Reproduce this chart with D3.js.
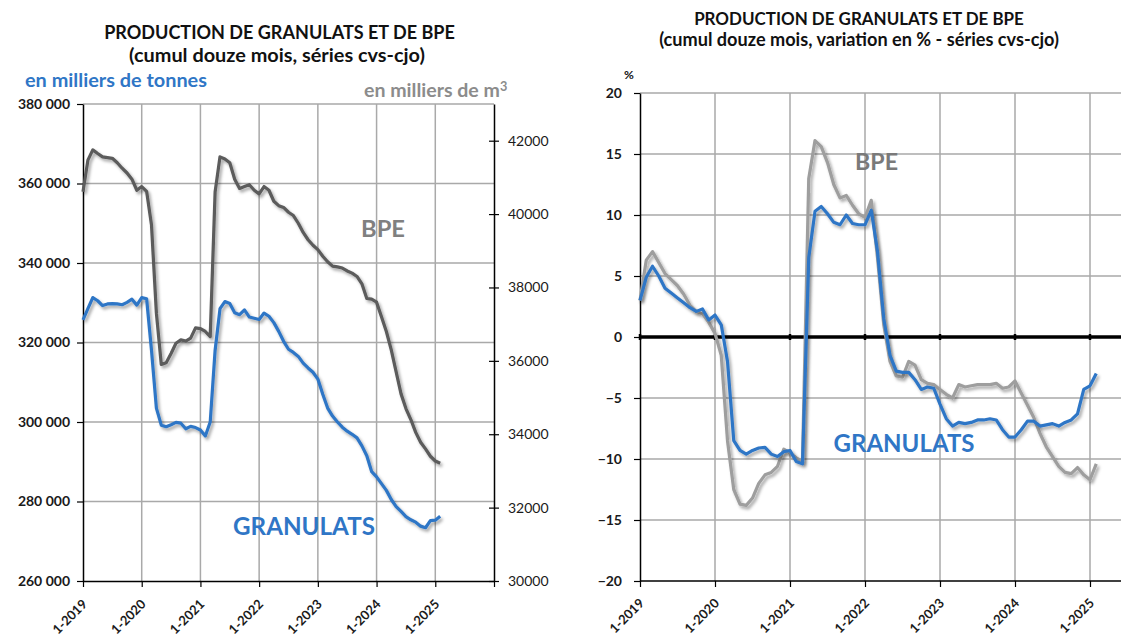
<!DOCTYPE html>
<html>
<head>
<meta charset="utf-8">
<script src="https://cdn.jsdelivr.net/npm/d3@7"></script>
<style>
body { margin: 0; background: #fff; }
text { font-family: Lato, "Open Sans", sans-serif; }
</style>
</head>
<body>
<svg id="chart" width="1125" height="637"></svg>
<script>
// monthly series, 1-2019 .. 2-2025 (cumul douze mois, cvs-cjo)
const yearLabels = ["1-2019", "1-2020", "1-2021", "1-2022", "1-2023", "1-2024", "1-2025"];

// milliers de tonnes
const granulats = [
    325700, 328500, 331300, 330500, 329300, 329700, 329800, 329700, 329500, 330100, 330900, 329400,
    331300, 331000, 318000, 303500, 299200, 298800, 299300, 299900, 299700, 298300, 298900, 298600,
    298000, 296500, 300000, 318000, 328500, 330300, 329800, 327500, 327000, 328200, 326400, 326100,
    325800, 327400, 326600, 325000, 322800, 320300, 318300, 317500, 316500, 314800, 313600, 312500,
    310800, 307000, 303500, 301500, 300000, 298700, 297700, 296900, 296000, 294000, 291500, 287500,
    286200, 284500, 282800, 280500, 278700, 277500, 276200, 275400, 274800, 273800, 273400, 275200,
    275300, 276300
];
// milliers de m3
const bpe = [
    40610, 41470, 41750, 41650, 41560, 41540, 41520, 41400, 41250, 41120, 40950, 40650,
    40750, 40620, 39700, 37300, 35900, 35950, 36200, 36480, 36570, 36540, 36620, 36900,
    36880, 36800, 36660, 40600, 41560, 41500, 41400, 40950, 40700, 40750, 40800, 40650,
    40550, 40750, 40650, 40350, 40230, 40180, 40050, 39960, 39750, 39500, 39300, 39150,
    39030, 38850, 38700, 38580, 38560, 38530, 38450, 38390, 38300, 38100, 37700, 37680,
    37600, 37200, 36800, 36300, 35700, 35100, 34700, 34400, 34050, 33780, 33600, 33400,
    33270, 33210
];
// variation en %
const granulatsPct = [
    3.0, 4.9, 5.8, 5.0, 4.0, 3.6, 3.2, 2.8, 2.4, 2.1, 2.3, 1.4,
    1.8, 1.0, -2.0, -8.5, -9.3, -9.6, -9.3, -9.1, -9.05, -9.6, -9.8, -9.4,
    -9.3, -10.2, -10.4, 6.5, 10.3, 10.7, 10.1, 9.4, 9.2, 10.0, 9.3, 9.2,
    9.2, 10.4, 7.0, 1.5, -1.5, -2.8, -2.9, -2.9, -3.5, -4.3, -4.1, -4.2,
    -5.5, -6.7, -7.3, -7.0, -7.1, -7.0, -6.8, -6.8, -6.7, -6.8, -7.6, -8.2,
    -8.2, -7.6, -6.9, -6.9, -7.3, -7.2, -7.1, -7.3, -7.0, -6.8, -6.3, -4.3,
    -4.0, -3.0
];
const bpePct = [
    3.0, 6.3, 7.0, 6.1, 5.2, 4.7, 4.2, 3.5, 2.6, 2.1, 1.9, 1.2,
    0.3, -1.5, -8.5, -12.5, -13.7, -13.8, -13.2, -12.0, -11.3, -11.1, -10.6, -9.2,
    -9.5, -9.9, -10.2, 13.0, 16.1, 15.6, 14.3, 12.5, 11.4, 11.6, 10.8, 10.1,
    9.8, 11.2, 6.5, 1.0, -2.0, -3.2, -3.3, -2.0, -2.3, -3.5, -3.8, -3.9,
    -4.3, -4.7, -5.0, -3.9, -4.1, -4.0, -3.9, -3.9, -3.9, -3.8, -4.2, -4.1,
    -3.6, -4.6, -5.6, -6.6, -7.9, -9.0, -9.8, -10.6, -11.1, -11.2, -10.7, -11.3,
    -11.7, -10.4
];

const BLUE = "#2f76c6";
const GRID = "#a9a9a9";

let svg = d3.select("#chart");
const fmtSpace = d3.formatLocale({ decimal: ",", thousands: " ", grouping: [3], currency: ["", ""] }).format(",d");

// ombre portée des courbes (comme Excel)
let defs = svg.append("defs");
defs.append("filter").attr("id", "shadow").attr("x", "-10%").attr("y", "-10%").attr("width", "120%").attr("height", "120%")
    .append("feDropShadow")
    .attr("dx", 2).attr("dy", 2.5).attr("stdDeviation", 1.6)
    .attr("flood-color", "#000").attr("flood-opacity", 0.35);

function fitText(t, w) {
    const len = t.node().getComputedTextLength();
    t.attr("font-size", parseFloat(t.attr("font-size")) * w / len);
    return t;
}

function label(x, y, txt, size, color, w, anchor) {
    let t = svg.append("text")
        .attr("x", x).attr("y", y)
        .attr("text-anchor", anchor || "middle")
        .attr("font-size", size)
        .attr("font-weight", "bold")
        .attr("fill", color)
        .text(txt);
    if (w) fitText(t, w);
    return t;
}

function styleAxis(g) {
    g.selectAll(".domain").attr("stroke", "#000").attr("stroke-width", 1.5);
    g.selectAll(".tick line").attr("stroke", "#000").attr("stroke-width", 1.2);
    g.selectAll("text").attr("font-family", "Lato, 'Open Sans', sans-serif").attr("fill", "#1a1a1a");
}

function xLabels(g, x, y) {
    g.selectAll("text.xl").data(yearLabels).enter().append("text")
        .attr("class", "xl")
        .attr("transform", (d, i) => `translate(${x(i * 12) + 5},${y}) rotate(-45)`)
        .attr("text-anchor", "end")
        .attr("font-size", 13)
        .attr("font-weight", "bold")
        .attr("fill", "#1a1a1a")
        .text(d => d);
}

// ---------------- graphique de gauche : niveaux ----------------
const xL = d3.scaleLinear().domain([0, 84]).range([83, 494]);
const yL = d3.scaleLinear().domain([260000, 380000]).range([581, 104]);
const yR = d3.scaleLinear().domain([30000, 43000]).range([581, 104]);

let left = svg.append("g");

left.selectAll("line.hg").data(d3.range(280000, 380001, 20000)).enter().append("line")
    .attr("x1", xL(0)).attr("x2", xL(84))
    .attr("y1", d => yL(d)).attr("y2", d => yL(d))
    .attr("stroke", GRID).attr("stroke-width", 1.5);
left.selectAll("line.vg").data(d3.range(12, 84, 12)).enter().append("line")
    .attr("x1", d => xL(d)).attr("x2", d => xL(d))
    .attr("y1", yL(380000)).attr("y2", yL(260000))
    .attr("stroke", GRID).attr("stroke-width", 1.5);

let axL = left.append("g").attr("transform", `translate(${xL(0)},0)`)
    .call(d3.axisLeft(yL).tickValues(d3.range(260000, 380001, 20000)).tickSize(6).tickSizeOuter(0).tickPadding(7).tickFormat(fmtSpace));
axL.selectAll("text").attr("font-size", 14).attr("font-weight", "bold");
styleAxis(axL);

let axR = left.append("g").attr("transform", `translate(${xL(84)},0)`)
    .call(d3.axisRight(yR).tickValues(d3.range(30000, 42001, 2000)).tickSize(5).tickSizeOuter(0).tickPadding(9).tickFormat(d3.format("d")));
axR.selectAll(".tick line").attr("x1", -5);
axR.selectAll("text").attr("font-size", 14);
styleAxis(axR);

let axB = left.append("g").attr("transform", `translate(0,${yL(260000)})`)
    .call(d3.axisBottom(xL).tickValues(d3.range(0, 85, 12)).tickSize(6).tickSizeOuter(0).tickFormat(""));
styleAxis(axB);
xLabels(left, xL, 605);

const lineL = d3.line().x((d, i) => xL(i)).y(d => yL(d));
const lineR = d3.line().x((d, i) => xL(i)).y(d => yR(d));

left.append("path").attr("d", lineR(bpe))
    .attr("fill", "none").attr("stroke", "#5b5b5b").attr("stroke-width", 3.2)
    .attr("stroke-linejoin", "round").attr("filter", "url(#shadow)");
left.append("path").attr("d", lineL(granulats))
    .attr("fill", "none").attr("stroke", BLUE).attr("stroke-width", 3.2)
    .attr("stroke-linejoin", "round").attr("filter", "url(#shadow)");

label(279.5, 39, "PRODUCTION DE GRANULATS ET DE BPE", 15, "#111", 351);
label(277, 62, "(cumul douze mois, séries cvs-cjo)", 15, "#111", 296);
label(25, 87, "en milliers de tonnes", 16, BLUE, 182, "start");
let m3 = label(364, 96.5, "en milliers de m", 16, "#8c8c8c", 136, "start");
m3.append("tspan").attr("dy", -6).attr("font-size", "0.65em").text("3");
label(383, 237, "BPE", 22, "#808080", 44);
label(304, 535, "GRANULATS", 22, BLUE, 142);

// ---------------- graphique de droite : variations ----------------
const xP = d3.scaleLinear().domain([0, 84]).range([640, 1165]);
const yP = d3.scaleLinear().domain([-20, 20]).range([581, 93]);
const rightEdge = 1121;

let right = svg.append("g");

right.selectAll("line.hg").data(d3.range(-15, 21, 5).filter(d => d !== 0)).enter().append("line")
    .attr("x1", xP(0)).attr("x2", rightEdge)
    .attr("y1", d => yP(d)).attr("y2", d => yP(d))
    .attr("stroke", GRID).attr("stroke-width", 1.5);
right.selectAll("line.vg").data(d3.range(12, 84, 12)).enter().append("line")
    .attr("x1", d => xP(d)).attr("x2", d => xP(d))
    .attr("y1", yP(20)).attr("y2", yP(-20))
    .attr("stroke", GRID).attr("stroke-width", 1.5);

let axP = right.append("g").attr("transform", `translate(${xP(0)},0)`)
    .call(d3.axisLeft(yP).tickValues(d3.range(-20, 21, 5)).tickSize(6).tickSizeOuter(0).tickPadding(12).tickFormat(d3.format("d")));
axP.selectAll("text").attr("font-size", 14).attr("font-weight", "bold");
styleAxis(axP);

let axPB = right.append("g").attr("transform", `translate(0,${yP(-20)})`)
    .call(d3.axisBottom(xP).tickValues(d3.range(0, 84, 12)).tickSize(6).tickSizeOuter(0).tickFormat(""));
axPB.select(".domain").attr("d", `M${xP(0)},0H${rightEdge}`);
styleAxis(axPB);
xLabels(right, xP, 604);

// ligne du zéro
right.append("line")
    .attr("x1", xP(0)).attr("x2", rightEdge)
    .attr("y1", yP(0)).attr("y2", yP(0))
    .attr("stroke", "#000").attr("stroke-width", 3.5);
right.selectAll("line.zt").data(d3.range(0, 84, 12)).enter().append("line")
    .attr("x1", d => xP(d)).attr("x2", d => xP(d))
    .attr("y1", yP(0) - 3).attr("y2", yP(0) + 3)
    .attr("stroke", "#000").attr("stroke-width", 2.5);

const lineP = d3.line().x((d, i) => xP(i)).y(d => yP(d));
right.append("path").attr("d", lineP(bpePct))
    .attr("fill", "none").attr("stroke", "#9e9e9e").attr("stroke-width", 3.2)
    .attr("stroke-linejoin", "round").attr("filter", "url(#shadow)");
right.append("path").attr("d", lineP(granulatsPct))
    .attr("fill", "none").attr("stroke", BLUE).attr("stroke-width", 3.2)
    .attr("stroke-linejoin", "round").attr("filter", "url(#shadow)");

label(859, 24.5, "PRODUCTION DE GRANULATS ET DE BPE", 14.5, "#111", 330);
label(859, 46, "(cumul douze mois, variation en % - séries cvs-cjo)", 14.5, "#111", 400);
label(629, 79, "%", 12, "#111", null);
label(876.5, 170, "BPE", 21, "#7a7a7a", 43);
label(904, 452, "GRANULATS", 21, BLUE, 141);
</script>
</body>
</html>
